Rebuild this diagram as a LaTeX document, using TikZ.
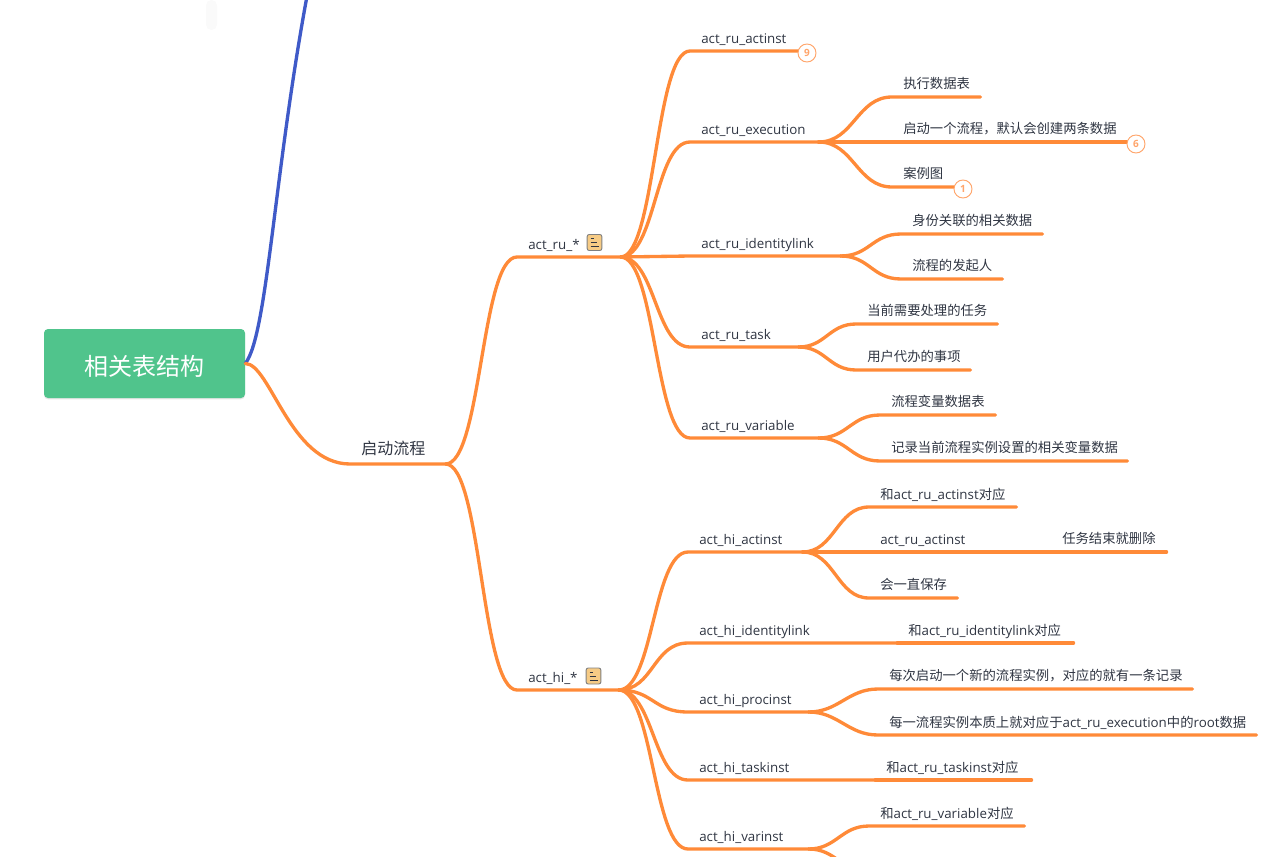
\documentclass[tikz,border=0pt]{standalone}
\usepackage{fontspec}
\setmainfont{Open Sans}
\newfontfamily\cjk{Noto Sans CJK SC}
\usetikzlibrary{shadows}

\definecolor{branchorange}{HTML}{FF8A38}
\definecolor{branchblue}{HTML}{3F5AC8}
\definecolor{rootgreen}{HTML}{50C48C}
\definecolor{inkdark}{HTML}{2F3542}
\definecolor{badgeorange}{HTML}{FFA56B}
\definecolor{notefill}{HTML}{F6CB85}

\tikzset{
  branch/.style={draw=branchorange,line width=2.5pt,line cap=round},
  topic/.style={anchor=south west,inner xsep=0pt,inner ysep=2.6pt,text height=8pt,text depth=3pt,
    align=left,font=\fontsize{10}{12}\selectfont,text=inkdark},
  zh/.style={inner ysep=3pt,font=\cjk\fontsize{10}{12}\selectfont},
  badge/.style={circle,draw=badgeorange,fill=white,line width=0.7pt,minimum size=13.5pt,inner sep=0pt,
    text=badgeorange,font=\fontsize{7.5}{9}\selectfont\bfseries},
  noteicon/.style={draw=black!50,fill=notefill,rounded corners=1.5pt,line width=0.7pt,
    minimum width=11pt,minimum height=12pt,inner sep=0pt},
  notebar/.style={draw=inkdark,line width=0.6pt},
  rootbox/.style={fill=rootgreen,rounded corners=3pt,minimum width=150.75pt,minimum height=51.75pt,
    inner sep=0pt,text=white,text height=18pt,text depth=0pt,font=\cjk\fontsize{18}{22}\selectfont,
    drop shadow={shadow xshift=0pt,shadow yshift=-1pt,opacity=.2}}
}

% name, x of text, x of line end, y of line, text
\newcommand\topic[6][]{%
  \pgfmathsetlengthmacro\topicw{(#4-#3+11)*0.75pt}%
  \node[topic,text width=\topicw,#1] (#2) at (#3-11,#5) {\hspace*{8.25pt}#6};%
}
% from, to, pull at start, pull at end
\newcommand\branchto[4]{\draw[branch] (#1) .. controls +(#3,0) and +(-#4,0) .. (#2.south west) -- (#2.south east);}
\newcommand\noteat[3]{%
  \node[noteicon] (#1) at (#2,#3) {};
  \draw[notebar] (#2-4,#3-4) -- (#2-1,#3-4);
  \draw[notebar] (#2-4,#3) -- (#2+2,#3);
  \draw[notebar] (#2-4,#3+4) -- (#2+4,#3+4);
}

\begin{document}
\begin{tikzpicture}[x=0.75pt,y=-0.75pt]

\useasboundingbox (0,0) rectangle (1276,856);
\clip (0,0) rectangle (1276,856);

\fill[black!2,rounded corners=4pt] (206,0) rectangle (217,30);

\node[rootbox] (root) at (144.5,363.5) {相关表结构};
\coordinate (offpage) at (311,-25);
\draw[draw=branchblue,line width=2.5pt] (root.east) .. controls (268,335) and (274,165) .. (offpage);

\topic[inner ysep=4.2pt,font=\cjk\fontsize{12}{14}\selectfont]{start}{361}{445}{464}{启动流程}
\branchto{root.east}{start}{25}{60}

% act_ru_*
\topic{ru}{528}{620}{257}{act\_ru\_*}
\topic{hi}{528}{618}{690}{act\_hi\_*}
\branchto{start.south east}{ru}{36}{36}
\branchto{start.south east}{hi}{36}{36}

\topic{ruact}{701}{800}{51}{act\_ru\_actinst}
\topic{ruexec}{701}{818}{142}{act\_ru\_execution}
\topic{ruident}{701}{840}{256}{act\_ru\_identitylink}
\topic{rutask}{701}{798}{347}{act\_ru\_task}
\topic{ruvar}{701}{818}{438}{act\_ru\_variable}
\branchto{ru.south east}{ruact}{35}{35}
\branchto{ru.south east}{ruexec}{35}{35}
\branchto{ru.south east}{ruident}{35}{35}
\branchto{ru.south east}{rutask}{35}{35}
\branchto{ru.south east}{ruvar}{35}{35}

\topic[zh]{execa}{903}{980}{97}{执行数据表}
\topic[zh]{execb}{903}{1128}{142}{启动一个流程，默认会创建两条数据}
\topic[zh]{execc}{903}{956}{187}{案例图}
\branchto{ruexec.south east}{execa}{35}{35}
\branchto{ruexec.south east}{execb}{35}{35}
\branchto{ruexec.south east}{execc}{35}{35}

\topic[zh]{identa}{912}{1042}{234}{身份关联的相关数据}
\topic[zh]{identb}{912}{1002}{279}{流程的发起人}
\branchto{ruident.south east}{identa}{29}{29}
\branchto{ruident.south east}{identb}{29}{29}

\topic[zh]{taska}{867}{997}{324}{当前需要处理的任务}
\topic[zh]{taskb}{867}{970}{370}{用户代办的事项}
\branchto{rutask.south east}{taska}{27}{27}
\branchto{rutask.south east}{taskb}{27}{27}

\topic[zh]{vara}{891}{995}{415}{流程变量数据表}
\topic[zh]{varb}{891}{1127}{461}{记录当前流程实例设置的相关变量数据}
\branchto{ruvar.south east}{vara}{29}{29}
\branchto{ruvar.south east}{varb}{29}{29}

% act_hi_*
\topic{hiact}{699}{802}{552}{act\_hi\_actinst}
\topic{hiident}{699}{897}{643}{act\_hi\_identitylink}
\topic{hiproc}{699}{808}{712}{act\_hi\_procinst}
\topic{hitask}{699}{875}{780}{act\_hi\_taskinst}
\topic{hivar}{699}{808}{849}{act\_hi\_varinst}
\branchto{hi.south east}{hiact}{35}{35}
\branchto{hi.south east}{hiident}{35}{35}
\branchto{hi.south east}{hiproc}{35}{35}
\branchto{hi.south east}{hitask}{35}{35}
\branchto{hi.south east}{hivar}{35}{35}

\topic{acta}{880}{1016}{507}{{\cjk 和}act\_ru\_actinst{\cjk 对应}}
\topic{actb}{880}{1051}{552}{act\_ru\_actinst}
\topic[zh]{actc}{880}{957}{598}{会一直保存}
\topic[zh]{actd}{1062}{1166}{552}{任务结束就删除}
\branchto{hiact.south east}{acta}{32}{32}
\branchto{hiact.south east}{actb}{32}{32}
\branchto{hiact.south east}{actc}{32}{32}
\branchto{actb.south east}{actd}{3}{3}

\topic{identc}{908}{1073}{643}{{\cjk 和}act\_ru\_identitylink{\cjk 对应}}
\branchto{hiident.south east}{identc}{3}{3}

\topic[zh]{proca}{889}{1192}{689}{每次启动一个新的流程实例，对应的就有一条记录}
\topic{procb}{889}{1256}{735}{{\cjk 每一流程实例本质上就对应于}act\_ru\_execution{\cjk 中的}root{\cjk 数据}}
\branchto{hiproc.south east}{proca}{30}{30}
\branchto{hiproc.south east}{procb}{30}{30}

\topic{taskc}{886}{1031}{780}{{\cjk 和}act\_ru\_taskinst{\cjk 对应}}
\branchto{hitask.south east}{taskc}{3}{3}

\topic{varc}{880}{1024}{826}{{\cjk 和}act\_ru\_variable{\cjk 对应}}
\coordinate (varmore) at (869,872);
\branchto{hivar.south east}{varc}{28}{28}
\draw[branch] (hivar.south east) .. controls +(28,0) and +(-28,0) .. (varmore);

\node[badge] (badgenine) at (807,53) {9};
\node[badge] (badgesix) at (1136,144) {6};
\node[badge] (badgeone) at (963,189) {1};

\noteat{noteru}{594.5}{242.5}
\noteat{notehi}{593.5}{676}

\end{tikzpicture}
\end{document}
